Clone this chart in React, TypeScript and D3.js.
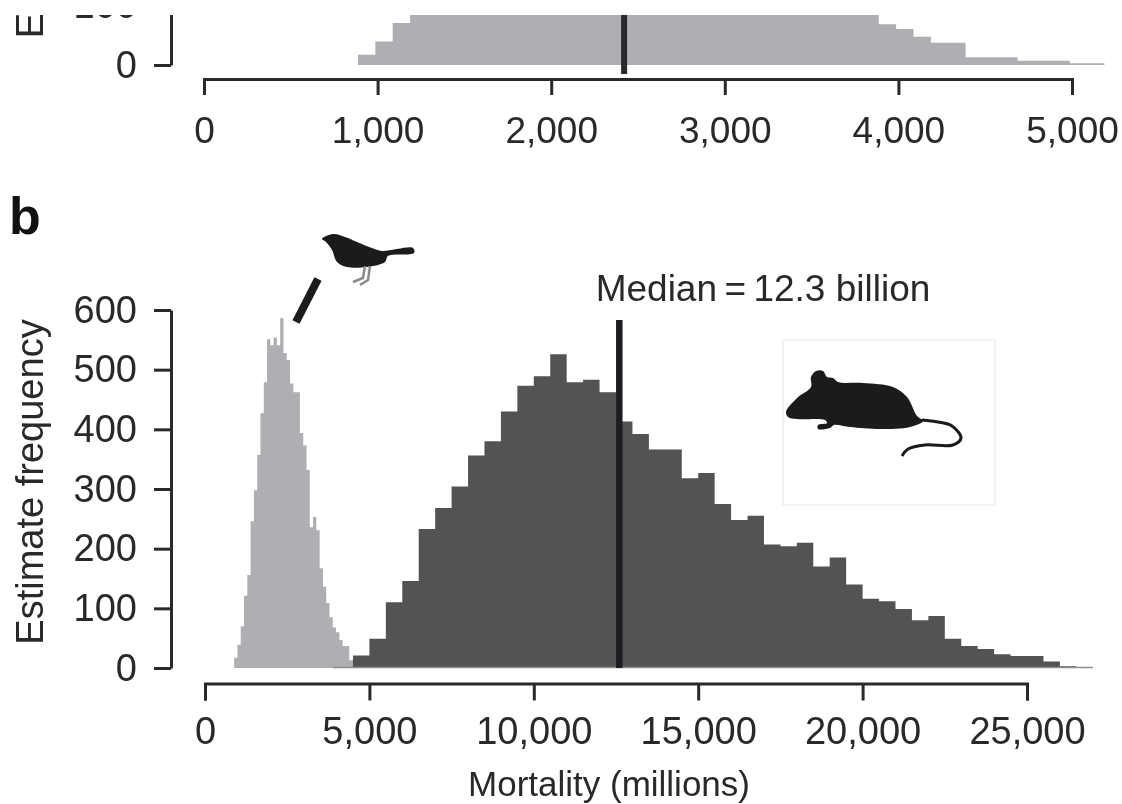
import React, { useRef, useEffect } from 'react';
import * as d3 from 'd3';

// counts per 100M bin, birds (same histogram in both panels)
const birdCounts = [17, 39, 70, 121, 156, 246, 298, 357, 427, 479, 551, 541, 554, 541, 586, 528, 516, 477, 462, 462, 394, 373, 332, 236, 253, 231, 167, 136, 109, 85, 68, 60, 47, 37, 37, 13, 13, 13, 7, 7, 7, 3, 3];
// counts per 500M bin, mammals
const mammalCounts = [21, 49, 110, 146, 233, 268, 304, 356, 380, 430, 473, 489, 526, 479, 483, 462, 413, 392, 366, 366, 318, 327, 275, 248, 255, 207, 204, 210, 170, 185, 140, 116, 112, 99, 80, 87, 49, 37, 32, 23, 20, 20, 11, 3, 1];
const birdStart = 887;
const birdBin = 100;
const mammalStart = 4500;
const mammalBin = 500;
const birdMedian = 2420;
const mammalMedian = 12600;
const freqTicks = [0, 100, 200, 300, 400, 500, 600];
const topXTicks = [0, 1000, 2000, 3000, 4000, 5000];
const bottomXTicks = [0, 5000, 10000, 15000, 20000, 25000];

const FONT = '"Liberation Sans", Arial, sans-serif';
const INK = '#29282a';
const BIRD = '#aeafb2';
const MAMMAL = '#525355';

const birdOutline: [number, number][] = [[322, 239], [333, 234], [345, 237], [357, 242], [372, 248], [382, 251], [413, 248], [414, 253], [388, 256], [385, 262], [367, 267], [347, 267], [337, 262], [332, 250], [326, 242]];
const mouseOutline: [number, number][] = [[786, 412], [797, 398], [811, 387], [811, 377], [816, 371], [823, 371], [827, 377], [833, 378], [838, 382], [863, 383], [893, 387], [907, 397], [917, 416], [923, 421], [910, 427], [880, 429], [850, 427], [834, 425], [830, 428], [818, 429], [818, 425], [827, 423], [825, 420], [797, 419], [788, 417]];
const mouseTail: [number, number][] = [[922, 420], [938, 422], [952, 426], [961, 438], [953, 445], [925, 445], [908, 449], [902, 456]];

const App = () => {
  const ref = useRef<SVGSVGElement>(null);

  useEffect(() => {
    const svg = d3.select(ref.current);
    svg.selectAll('*').remove();

    svg.append('defs').append('clipPath').attr('id', 'crop')
      .append('rect').attr('x', 0).attr('y', 15).attr('width', 1122).attr('height', 140);

    const histArea = (x: d3.ScaleLinear<number, number>, y: d3.ScaleLinear<number, number>, start: number, bin: number) =>
      d3.area<number>()
        .x((_, i) => x(start + i * bin))
        .y0(y(0))
        .y1(d => y(d))
        .curve(d3.curveStepAfter);

    const styleAxis = (size: number) => (g: d3.Selection<SVGGElement, unknown, null, undefined>) => {
      g.selectAll('path').attr('stroke', INK).attr('stroke-width', 3);
      g.selectAll('line').attr('stroke', INK).attr('stroke-width', 3);
      g.selectAll('text').attr('fill', INK).attr('font-family', FONT).attr('font-size', size);
    };

    // panel a, cut off by the top of the page
    const top = svg.append('g').attr('clip-path', 'url(#crop)');
    const xTop = d3.scaleLinear().domain([0, 5000]).range([204, 1072]);
    const yTop = d3.scaleLinear().domain([0, 100]).range([65, 5]);

    top.append('path')
      .attr('d', histArea(xTop, yTop, birdStart, birdBin)([...birdCounts, 0]))
      .attr('fill', BIRD);
    top.append('line')
      .attr('x1', xTop(birdMedian)).attr('x2', xTop(birdMedian))
      .attr('y1', 0).attr('y2', 74)
      .attr('stroke', INK).attr('stroke-width', 6);

    top.append('g')
      .attr('transform', 'translate(171,0)')
      .call(d3.axisLeft(yTop).tickValues([0, 100]).tickSize(17).tickSizeOuter(0).tickPadding(17))
      .call(styleAxis(38));

    svg.append('g')
      .attr('transform', 'translate(0,79)')
      .call(d3.axisBottom(xTop).tickValues(topXTicks).tickSize(16).tickSizeOuter(16).tickPadding(22).tickFormat(d3.format(',')))
      .call(styleAxis(37));

    top.append('text')
      .attr('transform', 'translate(43,-124.5) rotate(-90)')
      .attr('text-anchor', 'middle')
      .attr('font-family', FONT).attr('font-size', 38).attr('fill', INK)
      .text('Estimate frequency');

    // panel b
    const x = d3.scaleLinear().domain([0, 25000]).range([205, 1027]);
    const y = d3.scaleLinear().domain([0, 600]).range([668, 310]);

    svg.append('path')
      .attr('d', histArea(x, y, birdStart, birdBin)([...birdCounts, 0]))
      .attr('fill', BIRD);
    svg.append('path')
      .attr('d', histArea(x, y, mammalStart, mammalBin)([...mammalCounts, 0]))
      .attr('fill', MAMMAL);
    svg.append('line')
      .attr('x1', x(birdStart + 3000)).attr('x2', x(mammalStart + 22500))
      .attr('y1', y(0) - 0.5).attr('y2', y(0) - 0.5)
      .attr('stroke', '#8c8d90').attr('stroke-width', 1.5);
    svg.append('line')
      .attr('x1', x(mammalMedian)).attr('x2', x(mammalMedian))
      .attr('y1', 320).attr('y2', y(0))
      .attr('stroke', '#1e1c20').attr('stroke-width', 6.5);

    svg.append('g')
      .attr('transform', 'translate(171,0)')
      .call(d3.axisLeft(y).tickValues(freqTicks).tickSize(17).tickSizeOuter(0).tickPadding(17))
      .call(styleAxis(38));

    svg.append('g')
      .attr('transform', 'translate(0,683.5)')
      .call(d3.axisBottom(x).tickValues(bottomXTicks).tickSize(17).tickSizeOuter(17).tickPadding(17).tickFormat(d3.format(',')))
      .call(styleAxis(38));

    const label = (txt: string, px: number, py: number, size: number) =>
      svg.append('text')
        .attr('x', px).attr('y', py)
        .attr('text-anchor', 'middle')
        .attr('font-family', FONT).attr('font-size', size).attr('fill', INK)
        .text(txt);

    label('Mortality (millions)', 609, 796, 35);
    label('Median\u2009=\u200912.3 billion', 763, 301, 37);
    svg.append('text')
      .attr('transform', 'translate(43,482) rotate(-90)')
      .attr('text-anchor', 'middle')
      .attr('font-family', FONT).attr('font-size', 38).attr('fill', INK)
      .text('Estimate frequency');
    svg.append('text')
      .attr('x', 9).attr('y', 234)
      .attr('font-family', FONT).attr('font-size', 52).attr('font-weight', 700).attr('fill', '#111')
      .text('b');

    // animal cut-outs
    const closed = d3.line().curve(d3.curveCatmullRomClosed.alpha(0.5));
    const open = d3.line().curve(d3.curveCatmullRom.alpha(0.5));
    svg.append('rect')
      .attr('x', 783).attr('y', 340).attr('width', 212).attr('height', 165)
      .attr('fill', 'none').attr('stroke', '#f3f3f3').attr('stroke-width', 2);
    svg.append('path').attr('d', closed(mouseOutline)).attr('fill', '#1b1a1c');
    svg.append('path').attr('d', open(mouseTail)).attr('fill', 'none').attr('stroke', '#1b1a1c').attr('stroke-width', 3);
    svg.append('path').attr('d', closed(birdOutline)).attr('fill', '#1b1a1c');
    svg.append('path').attr('d', 'M365 266L363 278L353 282').attr('fill', 'none').attr('stroke', '#8a8a8c').attr('stroke-width', 2.5);
    svg.append('path').attr('d', 'M370 266L368 280L360 285').attr('fill', 'none').attr('stroke', '#8a8a8c').attr('stroke-width', 2.5);
    svg.append('line')
      .attr('x1', 318).attr('y1', 279).attr('x2', 296).attr('y2', 322)
      .attr('stroke', '#1b1a1c').attr('stroke-width', 8);
  }, []);

  return <svg ref={ref} width={1122} height={804} style={{ position: 'absolute', left: 0, top: 0, filter: 'blur(0.5px)' }}></svg>;
};

export default App;
